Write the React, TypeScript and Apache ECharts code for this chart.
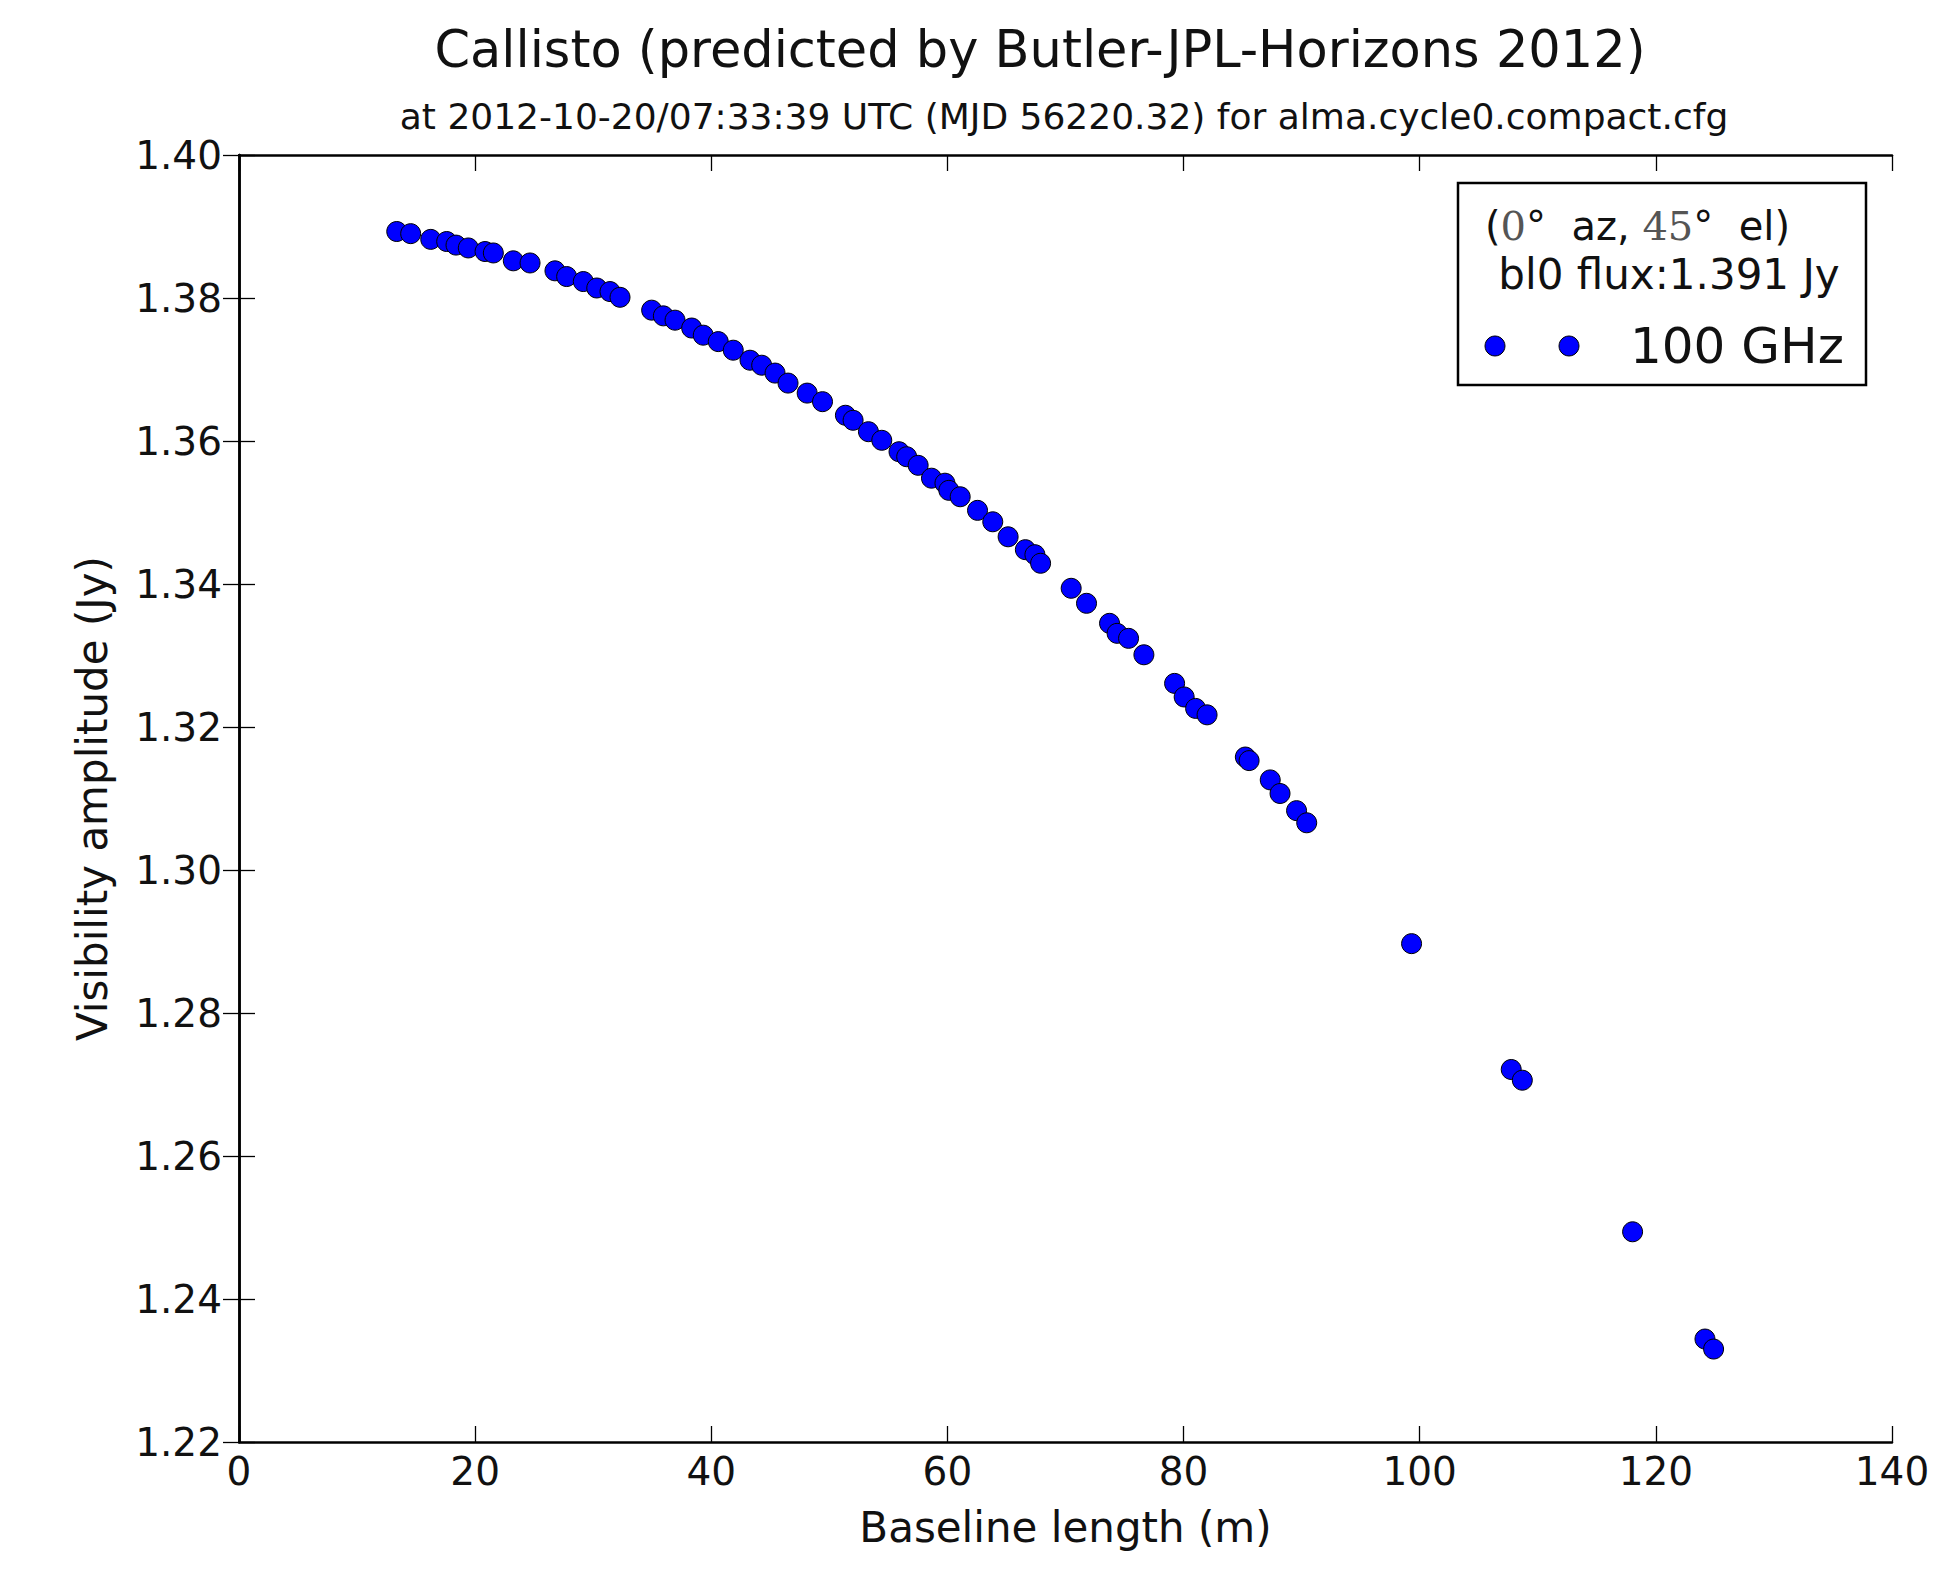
import React, { useEffect, useRef } from "react";
import * as echarts from "echarts";

const baselineLengths = [
  13.36, 14.54, 16.24, 17.59, 18.38, 19.42, 20.84, 21.54, 23.23, 24.65,
  26.76, 27.75, 29.16, 30.3, 31.42, 32.27, 34.95, 35.94, 36.93, 38.34,
  39.32, 40.59, 41.86, 43.28, 44.27, 45.4, 46.5, 48.12, 49.42, 51.36,
  52.01, 53.31, 54.44, 55.9, 56.55, 57.52, 58.65, 59.79, 60.12, 61.08,
  62.55, 63.84, 65.14, 66.6, 67.41, 67.89, 70.48, 71.78, 73.73, 74.37,
  75.34, 76.64, 79.24, 80.05, 81.02, 81.99, 85.23, 85.55, 87.34, 88.17,
  89.57, 90.43, 99.31, 107.75, 108.69, 118.03, 124.16, 124.89,
];

const amplitudes = [
  1.3893, 1.389, 1.3882, 1.3879, 1.3874, 1.387, 1.3865, 1.3863, 1.3852, 1.3849,
  1.3838, 1.383, 1.3823, 1.3814, 1.3809, 1.3801, 1.3783, 1.3775, 1.3769, 1.3758,
  1.3748, 1.3739, 1.3727, 1.3713, 1.3706, 1.3695, 1.3681, 1.3667, 1.3655, 1.3636,
  1.3629, 1.3613, 1.3601, 1.3585, 1.3578, 1.3566, 1.3548, 1.3541, 1.3531, 1.3522,
  1.3503, 1.3487, 1.3466, 1.3448, 1.3441, 1.3429, 1.3394, 1.3373, 1.3345, 1.3331,
  1.3324, 1.3301, 1.3261, 1.3242, 1.3226, 1.3217, 1.3158, 1.3153, 1.3126, 1.3107,
  1.3083, 1.3066, 1.2897, 1.2721, 1.2706, 1.2494, 1.2344, 1.233,
];

const titleText = "Callisto (predicted by Butler-JPL-Horizons 2012)";
const subtitleText = "at 2012-10-20/07:33:39 UTC (MJD 56220.32) for alma.cycle0.compact.cfg";
const xAxisName = "Baseline length (m)";
const yAxisName = "Visibility amplitude (Jy)";
const legendLine2 = " bl0 flux:1.391 Jy";
const seriesName = "100 GHz";

const FONT = "'DejaVu Sans', sans-serif";

export default function App() {
  const ref = useRef<HTMLDivElement>(null);

  useEffect(() => {
    if (!ref.current) return;
    const chart = echarts.init(ref.current, undefined, { renderer: "svg" });
    const data = baselineLengths.map((x, i) => [x, amplitudes[i]]);

    const frameLine = { show: true, lineStyle: { color: "#000", width: 2.5 } };
    const tick = { show: true, inside: true, length: 16, lineStyle: { color: "#000", width: 1.3 } };

    chart.setOption({
      animation: false,
      backgroundColor: "#fff",
      textStyle: { fontFamily: FONT },
      grid: { left: 239, top: 155, width: 1653, height: 1287, containLabel: false },
      xAxis: [
        {
          type: "value",
          min: 0,
          max: 140,
          interval: 20,
          position: "bottom",
          axisLine: frameLine,
          axisTick: tick,
          splitLine: { show: false },
          axisLabel: { color: "#111", fontSize: 39, margin: 10, fontFamily: FONT },
          name: xAxisName,
          nameLocation: "middle",
          nameGap: 64,
          nameTextStyle: { color: "#111", fontSize: 42, fontFamily: FONT },
        },
        {
          type: "value",
          min: 0,
          max: 140,
          interval: 20,
          position: "top",
          axisLine: frameLine,
          axisTick: tick,
          splitLine: { show: false },
          axisLabel: { show: false },
        },
      ],
      yAxis: [
        {
          type: "value",
          min: 1.22,
          max: 1.4,
          interval: 0.02,
          position: "left",
          axisLine: frameLine,
          axisTick: tick,
          splitLine: { show: false },
          axisLabel: {
            color: "#111",
            fontSize: 39,
            margin: 17,
            fontFamily: FONT,
            formatter: (v: number) => v.toFixed(2),
          },
          name: yAxisName,
          nameLocation: "middle",
          nameRotate: 90,
          nameGap: 126,
          nameTextStyle: { color: "#111", fontSize: 42, fontFamily: FONT },
        },
        {
          type: "value",
          min: 1.22,
          max: 1.4,
          interval: 0.02,
          position: "right",
          axisLine: frameLine,
          axisTick: tick,
          splitLine: { show: false },
          axisLabel: { show: false },
        },
      ],
      series: [
        {
          name: seriesName,
          type: "scatter",
          xAxisIndex: 0,
          yAxisIndex: 0,
          data,
          symbol: "circle",
          symbolSize: 20,
          itemStyle: { color: "#0000ff", borderColor: "#000", borderWidth: 1, opacity: 1 },
          emphasis: { disabled: true },
        },
      ],
      graphic: [
        {
          type: "text",
          x: 1040,
          y: 49,
          style: {
            text: titleText,
            fontSize: 51,
            fontFamily: FONT,
            fill: "#111",
            textAlign: "center",
            textVerticalAlign: "middle",
          },
        },
        {
          type: "text",
          x: 1064,
          y: 116,
          style: {
            text: subtitleText,
            fontSize: 36,
            fontFamily: FONT,
            fill: "#111",
            textAlign: "center",
            textVerticalAlign: "middle",
          },
        },
        {
          type: "rect",
          shape: { x: 1458, y: 183, width: 408, height: 202 },
          style: { fill: "#fff", stroke: "#000", lineWidth: 2.5 },
          z: 100,
        },
        {
          type: "text",
          x: 1485,
          y: 226,
          z: 101,
          style: {
            text: "({s|0}°  az, {s|45}°  el)",
            fontSize: 40,
            fontFamily: FONT,
            fill: "#111",
            textVerticalAlign: "middle",
            rich: {
              s: { fontFamily: "'DejaVu Serif', serif", fontSize: 40, fill: "#555" },
            },
          },
        },
        {
          type: "text",
          x: 1485,
          y: 274,
          z: 101,
          style: {
            text: legendLine2,
            fontSize: 42,
            fontFamily: FONT,
            fill: "#111",
            textVerticalAlign: "middle",
          },
        },
        {
          type: "circle",
          shape: { cx: 1495, cy: 346, r: 10 },
          style: { fill: "#0000ff", stroke: "#000", lineWidth: 1 },
          z: 101,
        },
        {
          type: "circle",
          shape: { cx: 1569, cy: 346, r: 10 },
          style: { fill: "#0000ff", stroke: "#000", lineWidth: 1 },
          z: 101,
        },
        {
          type: "text",
          x: 1630,
          y: 346,
          z: 101,
          style: {
            text: seriesName,
            fontSize: 50,
            fontFamily: FONT,
            fill: "#111",
            textVerticalAlign: "middle",
          },
        },
      ],
    });

    return () => chart.dispose();
  }, []);

  return (
    <div
      ref={ref}
      style={{ position: "absolute", left: 0, top: 0, width: 1933, height: 1569 }}
    />
  );
}
